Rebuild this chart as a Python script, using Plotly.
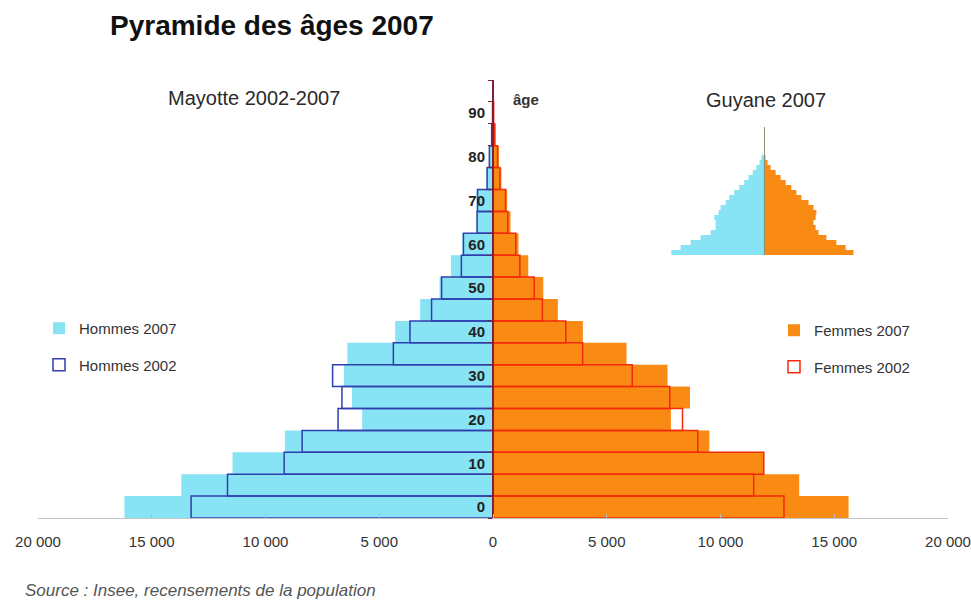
import plotly.graph_objects as go

# ---------------- data ----------------
age_start = [0, 5, 10, 15, 20, 25, 30, 35, 40, 45, 50, 55, 60, 65, 70, 75, 80, 85, 90, 95]
age_label_vals = [0, 10, 20, 30, 40, 50, 60, 70, 80, 90]
age_label_text = ["0", "10", "20", "30", "40", "50", "60", "70", "80", "90"]

# Mayotte (persons per 5-year age group)
hommes_2007 = [16200, 13700, 11450, 9150, 5750, 6200, 6550, 6400, 4300, 3200,
               2350, 1850, 1350, 720, 720, 280, 170, 60, 20, 0]
hommes_2002 = [13270, 11670, 9180, 8390, 6810, 6640, 7050, 4380, 3650, 2700,
               2260, 1390, 1300, 700, 680, 260, 160, 60, 20, 0]
femmes_2007 = [15630, 13460, 11920, 9510, 7820, 8660, 7670, 5870, 3950, 2850,
               2210, 1550, 1120, 770, 620, 370, 260, 100, 40, 10]
femmes_2002 = [12790, 11460, 11900, 9000, 8330, 7770, 6120, 3940, 3200, 2170,
               1810, 1180, 1000, 650, 550, 300, 200, 80, 30, 0]

# Guyane 2007 inset (estimated persons per 5-year age group)
guyane_hommes = [12900, 11600, 10200, 8800, 7400, 6700, 6700, 6900, 6300, 6000,
                 5300, 4800, 4100, 3400, 2700, 2100, 1500, 1000, 560, 280]
guyane_femmes = [12600, 11500, 10200, 8800, 7700, 7300, 7000, 7300, 7400, 7000,
                 6300, 5300, 4600, 3900, 3100, 2400, 1700, 1000, 560, 280]

x_tick_vals = [-20000, -15000, -10000, -5000, 0, 5000, 10000, 15000, 20000]
x_tick_text = ["20 000", "15 000", "10 000", "5 000", "0", "5 000", "10 000", "15 000", "20 000"]

# ---------------- styling ----------------
W, H = 971, 602
FONT = "Liberation Sans, Arial, sans-serif"
CYAN = "#88e3f5"
ORANGE = "#f98b14"
BLUE = "#2f3fae"
RED = "#f42a0a"
AXIS_MAROON = "#80203f"


def fx(px):
    return px / W


def fy(py):
    return 1 - py / H


age_mid = [a + 2.5 for a in age_start]
age_label_pos = [a + 2.5 for a in age_label_vals]

fig = go.Figure()

fig.add_trace(go.Bar(
    y=age_mid, x=[-v for v in hommes_2007], orientation="h", width=5,
    marker=dict(color=CYAN, line=dict(width=0)),
    name="Hommes 2007", legend="legend", legendgroup="h07",
    customdata=hommes_2007, hovertemplate="%{customdata}<extra>Hommes 2007</extra>",
))
fig.add_trace(go.Bar(
    y=age_mid, x=femmes_2007, orientation="h", width=5,
    marker=dict(color=ORANGE, line=dict(width=0)),
    name="Femmes 2007", legend="legend2", legendgroup="f07",
))
fig.add_trace(go.Bar(
    y=age_mid, x=[-v for v in hommes_2002], orientation="h", width=5,
    marker=dict(color="rgba(0,0,0,0)", line=dict(color=BLUE, width=1.5)),
    name="Hommes 2002", legend="legend", legendgroup="h02",
    customdata=hommes_2002, hovertemplate="%{customdata}<extra>Hommes 2002</extra>",
))
fig.add_trace(go.Bar(
    y=age_mid, x=femmes_2002, orientation="h", width=5,
    marker=dict(color="rgba(0,0,0,0)", line=dict(color=RED, width=1.5)),
    name="Femmes 2002", legend="legend2", legendgroup="f02",
))

# inset Guyane
fig.add_trace(go.Bar(
    y=age_mid, x=[-v for v in guyane_hommes], orientation="h", width=5,
    marker=dict(color=CYAN, line=dict(width=0)), xaxis="x2", yaxis="y2",
    showlegend=False, name="Guyane hommes",
))
fig.add_trace(go.Bar(
    y=age_mid, x=guyane_femmes, orientation="h", width=5,
    marker=dict(color=ORANGE, line=dict(width=0)), xaxis="x2", yaxis="y2",
    showlegend=False, name="Guyane femmes",
))

main_left, main_right = 38, 948
main_center = (main_left + main_right) / 2
inset_left, inset_right = 663, 864
inset_center = (inset_left + inset_right) / 2

fig.update_layout(
    width=W, height=H,
    margin=dict(l=0, r=0, t=0, b=0, pad=0, autoexpand=False),
    paper_bgcolor="white", plot_bgcolor="white",
    barmode="overlay",
    font=dict(family=FONT, color="#222"),
    title=dict(
        text="Pyramide des âges 2007",
        font=dict(family=FONT, size=28, color="#111", weight="bold"),
        x=fx(110), xanchor="left", xref="container",
        y=fy(25), yanchor="middle", yref="container",
    ),
    xaxis=dict(
        domain=[fx(main_left), fx(main_right)],
        range=[-20000, 20000],
        tickmode="array", tickvals=x_tick_vals, ticktext=x_tick_text,
        ticks="inside", ticklen=4, tickcolor="#b8b8b8", tickwidth=1,
        showline=True, linecolor="#c4c4c4", linewidth=1,
        showgrid=False, zeroline=False,
        tickfont=dict(family=FONT, size=15, color="#333"),
        ticklabelstandoff=10,
        anchor="y", fixedrange=True, automargin=False,
    ),
    yaxis=dict(
        domain=[fy(518), fy(80)],
        range=[0, 100],
        anchor="free", position=fx(main_center),
        tickmode="array", tickvals=age_label_pos, ticktext=age_label_text,
        ticks="", showline=True, linecolor=AXIS_MAROON, linewidth=2,
        minor=dict(tick0=0, dtick=5, ticks="outside", ticklen=4, tickcolor=AXIS_MAROON, tickwidth=1),
        showgrid=False, zeroline=False,
        tickfont=dict(family=FONT, size=15, color="#222", weight="bold"),
        ticklabelstandoff=4,
        fixedrange=True, automargin=False,
    ),
    xaxis2=dict(
        domain=[fx(inset_left), fx(inset_right)],
        range=[-14070, 14070], visible=False, anchor="y2", fixedrange=True, automargin=False,
    ),
    yaxis2=dict(
        domain=[fy(255), fy(127)],
        range=[0, 128], anchor="free", position=fx(inset_center),
        showline=True, linecolor="#8f9470", linewidth=1,
        showticklabels=False, ticks="", showgrid=False, zeroline=False,
        fixedrange=True, automargin=False,
    ),
    legend=dict(
        x=fx(39), y=fy(312), xanchor="left", yanchor="top",
        font=dict(family=FONT, size=15, color="#333"),
        bgcolor="rgba(0,0,0,0)", borderwidth=0,
        tracegroupgap=14, traceorder="grouped",
    ),
    legend2=dict(
        x=fx(774), y=fy(314), xanchor="left", yanchor="top",
        font=dict(family=FONT, size=15, color="#333"),
        bgcolor="rgba(0,0,0,0)", borderwidth=0,
        tracegroupgap=14, traceorder="grouped",
    ),
    annotations=[
        dict(text="Mayotte 2002-2007", x=fx(254), y=fy(98), xref="paper", yref="paper",
             xanchor="center", yanchor="middle", showarrow=False,
             font=dict(family=FONT, size=20, color="#2a2a2a")),
        dict(text="Guyane 2007", x=fx(766), y=fy(100), xref="paper", yref="paper",
             xanchor="center", yanchor="middle", showarrow=False,
             font=dict(family=FONT, size=20, color="#2a2a2a")),
        dict(text="âge", x=fx(511), y=fy(100), xref="paper", yref="paper",
             xanchor="left", yanchor="middle", showarrow=False,
             font=dict(family=FONT, size=15, color="#333", weight="bold")),
        dict(text="Source : Insee, recensements de la population", x=fx(23), y=fy(590),
             xref="paper", yref="paper", xanchor="left", yanchor="middle", showarrow=False,
             font=dict(family=FONT, size=17, color="#555", style="italic")),
    ],
)

fig.write_html("out.html", config={"displayModeBar": False},
               post_script="document.body.style.margin='0px';")
